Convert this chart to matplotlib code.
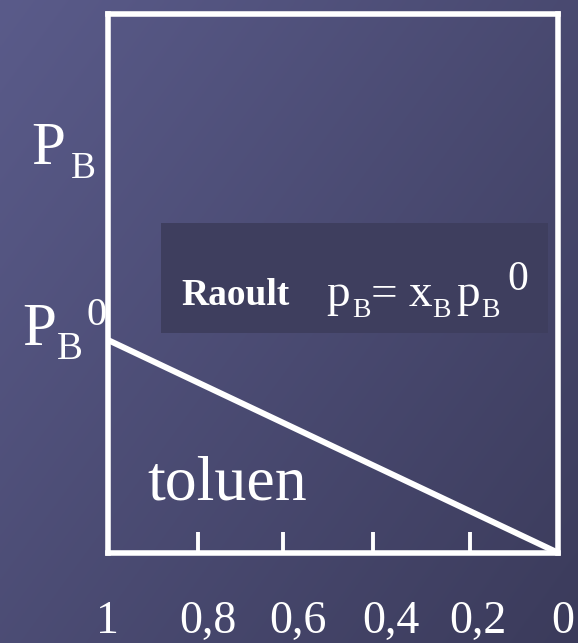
import numpy as np
import matplotlib
matplotlib.use("Agg")
import matplotlib.pyplot as plt
from matplotlib.patches import Rectangle
import matplotlib.transforms as mtransforms

# ---- data ----
x_values = [1.0, 0.0]           # mole fraction x_B
p_values = [0.395, 0.0]         # p_B (relative to plot height)
tick_values = [0.80, 0.61, 0.41, 0.195]
tick_label_values = [1.0, 0.8, 0.6, 0.4, 0.2, 0.0]
tick_labels = ["1", "0,8", "0,6", "0,4", "0,2", "0"]

# ---- style ----
plt.rcParams['font.family'] = ['Liberation Serif', 'DejaVu Serif']

W, H = 578, 643
fig = plt.figure(figsize=(W / 100, H / 100), dpi=100)

# background gradient
bg = fig.add_axes([0, 0, 1, 1])
bg.set_axis_off()
gx, gy = np.meshgrid(np.linspace(0, 1, 300), np.linspace(0, 1, 300))
t = (gx * 0.55 + gy * 0.45)
c0 = np.array([0x5a, 0x5b, 0x8a]) / 255
c1 = np.array([0x3b, 0x3b, 0x5b]) / 255
img = c0[None, None, :] * (1 - t[..., None]) + c1[None, None, :] * t[..., None]
bg.imshow(img, aspect='auto', extent=[0, 1, 0, 1], origin='upper')
bg.set_xlim(0, 1)
bg.set_ylim(0, 1)

def fx(px):
    return px / W

def fy(py):
    return 1 - py / H

def put(s, x, base, size, z=4, **kw):
    fig.text(fx(x), fy(base), s, color='white', fontsize=size,
             va='baseline', ha='left', zorder=z, **kw)

ax = fig.add_axes([fx(107.5), fy(552.5), 450 / W, 538.5 / H])
ax.patch.set_alpha(0)
ax.set_xlim(1, 0)
ax.set_ylim(0, 1)
for s in ax.spines.values():
    s.set_color('white')
    s.set_linewidth(4.0)
ax.set_yticks([])
ax.set_xticks(tick_values)
ax.set_xticklabels([])
ax.tick_params(axis='x', direction='in', length=15, width=2.8, color='white')

ax.plot(x_values, p_values, color='white', lw=4.3, solid_capstyle='butt', clip_on=False)

# tick labels
nudges = [0, 10, 10, 13, 10, 5]
for v, lab, dx in zip(tick_label_values, tick_labels, nudges):
    tr = mtransforms.blended_transform_factory(ax.transData, fig.transFigure)
    tr = tr + mtransforms.ScaledTranslation(dx / 100, 0, fig.dpi_scale_trans)
    fig.text(v, fy(633), lab, transform=tr, ha='center', va='baseline',
             color='white', fontsize=33)

# axis labels: P_B
put("P", 31, 164, 44)
put("B", 71, 178, 27)
# P_B^0
put("P", 22, 345, 44)
put("B", 57, 359, 28)
put("0", 86, 325, 29)

# Raoult box
fig.patches.append(Rectangle((fx(161), fy(333)), (548 - 161) / W, (333 - 223) / H,
                             transform=fig.transFigure, facecolor='#3e3e5e',
                             edgecolor='none', zorder=3))
put("Raoult", 181, 305, 27, fontweight='bold')
put("p", 326, 306, 34)
put("B", 352, 317, 20)
put("=", 371, 306, 34)
put("x", 409, 306, 34)
put("B", 432, 317, 20)
put("p", 456, 306, 34)
put("B", 481, 317, 20)
put("0", 507, 290, 30)

put("toluen", 147, 500, 46, z=2)

fig.savefig("out.png", dpi=100)
